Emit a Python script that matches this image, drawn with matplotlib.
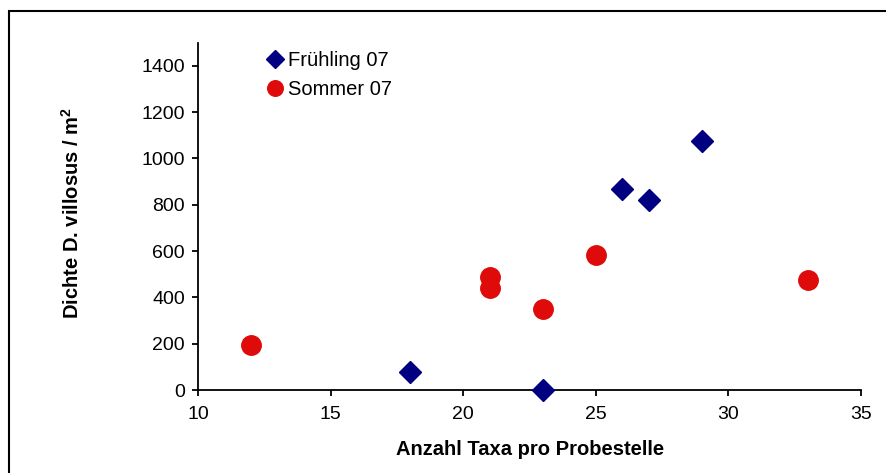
import matplotlib
matplotlib.use("Agg")
import matplotlib.pyplot as plt
from matplotlib.patches import Rectangle

plt.rcParams['font.family'] = ['Liberation Sans', 'DejaVu Sans']

# Data
fruehling_x = [18, 23, 26, 27, 29]
fruehling_y = [78, 0, 867, 821, 1076]
sommer_x = [12, 21, 21, 23, 25, 33]
sommer_y = [194, 487, 439, 350, 583, 475]

x_ticks = [10, 15, 20, 25, 30, 35]
y_ticks = [0, 200, 400, 600, 800, 1000, 1200, 1400]

navy = '#000080'
red = '#DF0A0A'

fig = plt.figure(figsize=(8.86, 4.73), dpi=100)
ax = fig.add_axes([198/886, 1-390/473, (861-198)/886, (390-42.7)/473])

ax.plot(fruehling_x, fruehling_y, linestyle='none', marker='D', markersize=11,
        color=navy, markeredgecolor=navy, label='Frühling 07', clip_on=False, zorder=3)
ax.plot(sommer_x, sommer_y, linestyle='none', marker='o', markersize=14,
        color=red, markeredgecolor=red, label='Sommer 07', clip_on=False, zorder=3)

ax.set_xlim(10, 35)
ax.set_ylim(0, 1500)
ax.set_xticks(x_ticks)
ax.set_yticks(y_ticks)
ax.tick_params(axis='both', labelsize=14, direction='out', length=4.5, width=1.3, color='black')
ax.tick_params(axis='x', pad=7)
ax.tick_params(axis='y', pad=5)
for s in ['top', 'right']:
    ax.spines[s].set_visible(False)
for s in ['left', 'bottom']:
    ax.spines[s].set_linewidth(1.3)

ax.set_xlabel('Anzahl Taxa pro Probestelle', fontsize=14.5, fontweight='bold')
ax.set_ylabel('Dichte D. villosus / m$^{\\mathregular{2}}$', fontsize=14.5, fontweight='bold')
ax.xaxis.set_label_coords(0.5008, (390-440)/347.3)
ax.yaxis.set_label_coords((83-198)/663, 0.51)

leg = ax.legend(loc='upper left', bbox_to_anchor=((265-198)/663, (390-51)/347.3), frameon=False,
                fontsize=14.5, handletextpad=0.15, handlelength=1.0, labelspacing=0.5,
                borderaxespad=0, borderpad=0, markerscale=0.8)

fig.patches.append(Rectangle((9/886, -0.1), 1.0, 1.1-11/473, transform=fig.transFigure,
                             fill=False, edgecolor='black', linewidth=1.5))

fig.savefig('out.png', dpi=100)
